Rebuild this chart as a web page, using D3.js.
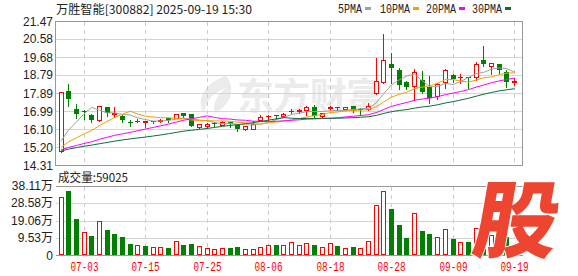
<!DOCTYPE html>
<html>
<head>
<meta charset="utf-8">
<script src="https://cdn.jsdelivr.net/npm/d3@7"></script>
<style>
  body { margin: 0; background: #fff; }
  svg { display: block; }
</style>
</head>
<body>
<svg width="578" height="276"></svg>
<script>
// trading days shown
const dates = [
  '06-30',
  '07-01','07-02','07-03','07-04','07-07','07-08','07-09','07-10','07-11','07-14','07-15','07-16','07-17','07-18',
  '07-21','07-22','07-23','07-24','07-25','07-28','07-29','07-30','07-31',
  '08-01','08-04','08-05','08-06','08-07','08-08','08-11','08-12','08-13','08-14','08-15','08-18','08-19','08-20',
  '08-21','08-22','08-25','08-26','08-27','08-28','08-29',
  '09-01','09-02','09-03','09-04','09-05','09-08','09-09','09-10','09-11','09-12','09-15','09-16','09-17','09-18','09-19'
];

const opens = [
  15.01, 17.99, 17.09, 16.99, 16.80, 16.55, 17.18, 16.84, 16.76, 16.45,
  16.48, 16.47, 16.49, 16.52, 16.66, 16.66, 16.89, 16.83, 16.18, 16.27,
  16.42, 16.30, 16.44, 16.28, 16.08, 16.11, 16.55, 16.73, 16.78, 16.73,
  16.98, 17.00, 17.04, 17.18, 16.76, 17.14, 17.18, 17.09, 17.24, 17.09,
  17.08, 17.87, 18.42, 19.35, 19.03, 18.45, 18.24, 18.54, 18.20, 17.74,
  18.42, 18.78, 18.68, 18.69, 18.67, 19.53, 19.23, 19.33, 18.95, 18.43
];
const highs = [
  17.94, 18.37, 17.41, 17.08, 16.88, 17.25, 17.22, 17.24, 16.84, 16.60,
  16.66, 16.57, 16.56, 16.66, 16.70, 16.91, 16.94, 16.88, 16.38, 16.46,
  16.48, 16.55, 16.50, 16.33, 16.28, 16.55, 16.83, 16.83, 16.84, 16.93,
  17.13, 17.13, 17.29, 17.34, 16.92, 17.29, 17.26, 17.24, 17.26, 17.19,
  17.46, 19.70, 20.89, 19.94, 19.20, 18.54, 19.12, 19.03, 18.78, 18.45,
  19.12, 18.87, 18.90, 18.74, 19.48, 20.28, 19.40, 19.37, 19.07, 18.70
];
const lows = [
  14.95, 17.24, 16.66, 16.58, 16.46, 16.50, 16.75, 16.71, 16.46, 16.26,
  16.46, 16.22, 16.42, 16.46, 16.46, 16.64, 16.68, 16.25, 16.17, 16.18,
  16.25, 16.28, 16.22, 16.02, 16.05, 16.09, 16.50, 16.55, 16.58, 16.70,
  16.88, 16.90, 16.80, 16.71, 16.71, 17.03, 17.02, 17.05, 16.93, 16.80,
  17.05, 17.82, 18.37, 18.37, 18.09, 18.09, 17.54, 17.87, 17.41, 17.59,
  18.12, 18.45, 18.37, 18.12, 18.54, 19.23, 18.82, 18.87, 18.20, 18.29
];
const closes = [
  17.94, 17.59, 16.86, 16.95, 16.55, 17.23, 16.91, 16.88, 16.55, 16.40,
  16.52, 16.49, 16.51, 16.56, 16.55, 16.83, 16.76, 16.26, 16.33, 16.36,
  16.38, 16.46, 16.36, 16.09, 16.25, 16.33, 16.71, 16.77, 16.75, 16.86,
  17.01, 17.03, 17.18, 16.76, 16.88, 17.18, 17.12, 17.19, 17.01, 17.05,
  17.24, 18.49, 19.53, 19.15, 18.30, 18.20, 18.92, 17.95, 17.63, 18.34,
  19.03, 18.59, 18.71, 18.63, 19.33, 19.32, 19.37, 19.03, 18.45, 18.47
];
// volume, in 万手
const volumes = [
  32.1, 35.4, 20.0, 12.9, 10.7, 18.9, 14.0, 11.8, 10.1, 6.3,
  5.6, 5.2, 4.5, 4.5, 4.1, 8.1, 5.8, 6.3, 5.2, 3.9,
  3.4, 3.9, 3.9, 4.5, 3.4, 3.4, 4.5, 5.6, 5.6, 5.6,
  7.2, 5.6, 6.7, 5.6, 4.8, 6.7, 5.2, 3.9, 4.5, 3.9,
  8.0, 27.7, 35.4, 25.5, 16.7, 9.5, 23.1, 13.4, 11.8, 10.0,
  14.4, 8.9, 7.2, 7.6, 15.0, 13.4, 11.2, 9.0, 10.1, 5.9025
];
// closes before the window, only used to seed the moving averages
const priorCloses = [
  14.62, 14.70, 14.85, 14.95, 15.10, 15.02, 14.88, 14.80, 14.93, 15.05,
  15.12, 14.98, 14.90, 14.84, 14.79, 14.86, 14.97, 15.04, 14.96, 14.88,
  14.82, 14.90, 14.95, 14.87, 14.80, 14.84, 14.91, 14.88, 14.95
];

const priceTicks = [14.31, 15.20, 16.10, 16.99, 17.89, 18.79, 19.68, 20.58, 21.47];
const volTicks = [0, 9.53, 19.06, 28.58, 38.11];
const dateTicks = ['07-03', '07-15', '07-25', '08-06', '08-18', '08-28', '09-09', '09-19'];
const maPeriods = [5, 10, 20, 30];
const maNames = ['5PMA', '10PMA', '20PMA', '30PMA'];

const title = '万胜智能[300882] 2025-09-19 15:30';

const RED = '#ff0000';
const GREEN = '#008000';
const MA_COLORS = ['#a0a0a0', '#f5a000', '#ff00ff', '#0b6e38'];
const GRID = '#d4d4d4';
const FRAME = '#999999';
const TEXT = '#222';

const LEFT = 55.5, RIGHT = 522.5;

const svg = d3.select('svg');

const x = d3.scalePoint().domain(dates).range([60.5, 514]);
const y = d3.scaleLinear().domain([14.31, 21.47]).range([165, 21]);
const yv = d3.scaleLinear().domain([0, 38.11]).range([255.5, 186]);

const px = v => Math.round(v) + 0.5;
const cxOf = d => px(x(d));

// watermark
const wm = svg.append('g').attr('fill', '#ebebeb');
wm.append('path')
  .attr('d', 'M226 76 C206 82 195 99 204 113 C206 101 213 92 226 88 C216 96 212 105 215 113 C233 104 235 86 226 76 Z');
wm.append('text')
  .attr('x', 237).attr('y', 110)
  .attr('font-family', "'Noto Sans CJK SC', sans-serif")
  .attr('font-weight', 'bold')
  .attr('font-size', 37)
  .attr('textLength', 146)
  .text('东方财富');

// grid: main panel
const grid = svg.append('g').attr('shape-rendering', 'crispEdges');
grid.selectAll('line.pgrid')
  .data(priceTicks.slice(1, -1))
  .enter().append('line')
  .attr('x1', LEFT).attr('x2', RIGHT)
  .attr('y1', d => px(y(d))).attr('y2', d => px(y(d)))
  .attr('stroke', GRID);

grid.selectAll('line.vgrid')
  .data(volTicks.slice(1, -1))
  .enter().append('line')
  .attr('x1', LEFT).attr('x2', RIGHT)
  .attr('y1', d => px(yv(d))).attr('y2', d => px(yv(d)))
  .attr('stroke', GRID);

dateTicks.forEach(d => {
  grid.append('line')
    .attr('x1', cxOf(d)).attr('x2', cxOf(d))
    .attr('y1', 22).attr('y2', 165)
    .attr('stroke', '#cccccc').attr('stroke-dasharray', '4,4');
  grid.append('line')
    .attr('x1', cxOf(d)).attr('x2', cxOf(d))
    .attr('y1', 187).attr('y2', 255)
    .attr('stroke', '#cccccc').attr('stroke-dasharray', '4,4');
});

// frames
grid.append('rect')
  .attr('x', LEFT).attr('y', px(y(21.47)))
  .attr('width', RIGHT - LEFT).attr('height', px(y(14.31)) - px(y(21.47)))
  .attr('fill', 'none').attr('stroke', FRAME);
grid.append('line')
  .attr('x1', LEFT).attr('x2', RIGHT)
  .attr('y1', px(yv(38.11))).attr('y2', px(yv(38.11)))
  .attr('stroke', FRAME);
grid.append('line')
  .attr('x1', LEFT).attr('x2', RIGHT)
  .attr('y1', 255.5).attr('y2', 255.5)
  .attr('stroke', FRAME);

// candles
const candles = svg.append('g').attr('shape-rendering', 'crispEdges');
dates.forEach((d, i) => {
  const cx = cxOf(d);
  const o = opens[i], c = closes[i], h = highs[i], l = lows[i];
  const up = c >= o;
  const g = candles.append('g');
  if (up) {
    const top = px(y(c)), bot = px(y(o));
    g.append('line').attr('x1', cx).attr('x2', cx)
      .attr('y1', px(y(h))).attr('y2', top).attr('stroke', RED);
    g.append('line').attr('x1', cx).attr('x2', cx)
      .attr('y1', bot).attr('y2', px(y(l))).attr('stroke', RED);
    if (bot - top < 1) {
      g.append('line').attr('x1', cx - 2.5).attr('x2', cx + 2.5)
        .attr('y1', top).attr('y2', top).attr('stroke', RED);
    } else {
      g.append('rect').attr('x', cx - 2).attr('y', top)
        .attr('width', 4).attr('height', bot - top)
        .attr('fill', '#fff').attr('stroke', RED);
    }
  } else {
    const top = Math.round(y(o)), bot = Math.round(y(c));
    g.append('line').attr('x1', cx).attr('x2', cx)
      .attr('y1', px(y(h))).attr('y2', px(y(l))).attr('stroke', GREEN);
    g.append('rect').attr('x', cx - 2.5).attr('y', top)
      .attr('width', 5).attr('height', Math.max(1, bot - top))
      .attr('fill', GREEN);
  }
});

// moving averages
const allCloses = priorCloses.concat(closes);
const off = priorCloses.length;
const maSeries = maPeriods.map(n =>
  closes.map((c, i) => d3.mean(allCloses.slice(off + i - n + 1, off + i + 1))));

const line = d3.line()
  .x((d, i) => x(dates[i]) + 0.5)
  .y(d => y(d));

svg.append('g')
  .selectAll('path')
  .data(maSeries)
  .enter().append('path')
  .attr('d', line)
  .attr('fill', 'none')
  .attr('stroke', (d, i) => MA_COLORS[i])
  .attr('stroke-width', 1);

// volume bars
const vols = svg.append('g').attr('shape-rendering', 'crispEdges');
volumes.forEach((v, i) => {
  const cx = cxOf(dates[i]);
  const prev = i === 0 ? priorCloses[priorCloses.length - 1] : closes[i - 1];
  const top = Math.round(yv(v));
  if (closes[i] >= prev) {
    vols.append('rect').attr('x', cx - 2).attr('y', top + 0.5)
      .attr('width', 4).attr('height', 255 - top - 1)
      .attr('fill', '#fff').attr('stroke', RED);
  } else {
    vols.append('rect').attr('x', cx - 2.5).attr('y', top)
      .attr('width', 5).attr('height', 255 - top)
      .attr('fill', GREEN);
  }
});

// axis labels
const labels = svg.append('g')
  .attr('font-family', "'Liberation Sans', Arial, 'Noto Sans CJK SC', sans-serif")
  .attr('font-size', 12)
  .attr('fill', TEXT);

labels.selectAll('text.p')
  .data(priceTicks)
  .enter().append('text')
  .attr('x', 53).attr('y', d => y(d) + 4.5)
  .attr('text-anchor', 'end')
  .text(d => d.toFixed(2));

labels.selectAll('text.v')
  .data(volTicks)
  .enter().append('text')
  .attr('x', 53).attr('y', d => yv(d) + 4)
  .attr('text-anchor', 'end')
  .text(d => d === 0 ? '0' : d.toFixed(2) + '万');

svg.append('g')
  .selectAll('text')
  .data(dateTicks)
  .enter().append('text')
  .attr('x', d => cxOf(d))
  .attr('y', 271)
  .attr('text-anchor', 'middle')
  .attr('font-family', "'Liberation Mono', monospace")
  .attr('font-size', 12)
  .attr('textLength', 28)
  .attr('lengthAdjust', 'spacingAndGlyphs')
  .attr('fill', RED)
  .text(d => d);

// title and volume caption
svg.append('text')
  .attr('x', 56).attr('y', 14)
  .attr('font-family', "'Noto Sans CJK SC', sans-serif")
  .attr('font-size', 12)
  .attr('textLength', 196)
  .attr('lengthAdjust', 'spacingAndGlyphs')
  .attr('fill', TEXT)
  .text(title);

svg.append('text')
  .attr('x', 58).attr('y', 182)
  .attr('font-family', "'Noto Sans CJK SC', sans-serif")
  .attr('font-size', 12)
  .attr('textLength', 70)
  .attr('lengthAdjust', 'spacingAndGlyphs')
  .attr('fill', TEXT)
  .text('成交量:' + Math.round(volumes[volumes.length - 1] * 10000));

// legend
const legendX = [338, 380, 426, 472];
const legend = svg.append('g');
maNames.forEach((name, i) => {
  legend.append('text')
    .attr('x', legendX[i]).attr('y', 12.5)
    .attr('font-family', "'Liberation Mono', monospace")
    .attr('font-size', 12)
    .attr('textLength', name.length * 6)
    .attr('lengthAdjust', 'spacingAndGlyphs')
    .attr('fill', TEXT)
    .text(name);
  legend.append('rect')
    .attr('x', legendX[i] + name.length * 6 + 3).attr('y', 7)
    .attr('width', 6).attr('height', 3)
    .attr('fill', MA_COLORS[i]);
});

// 股 badge
svg.append('text')
  .attr('transform', 'translate(512,251) skewX(-10)')
  .attr('text-anchor', 'middle')
  .attr('font-family', "'Noto Sans CJK SC', sans-serif")
  .attr('font-weight', 900)
  .attr('font-size', 84)
  .attr('fill', '#ee4530')
  .attr('stroke', '#fff')
  .attr('stroke-width', 2)
  .attr('paint-order', 'stroke')
  .text('股');
</script>
</body>
</html>
